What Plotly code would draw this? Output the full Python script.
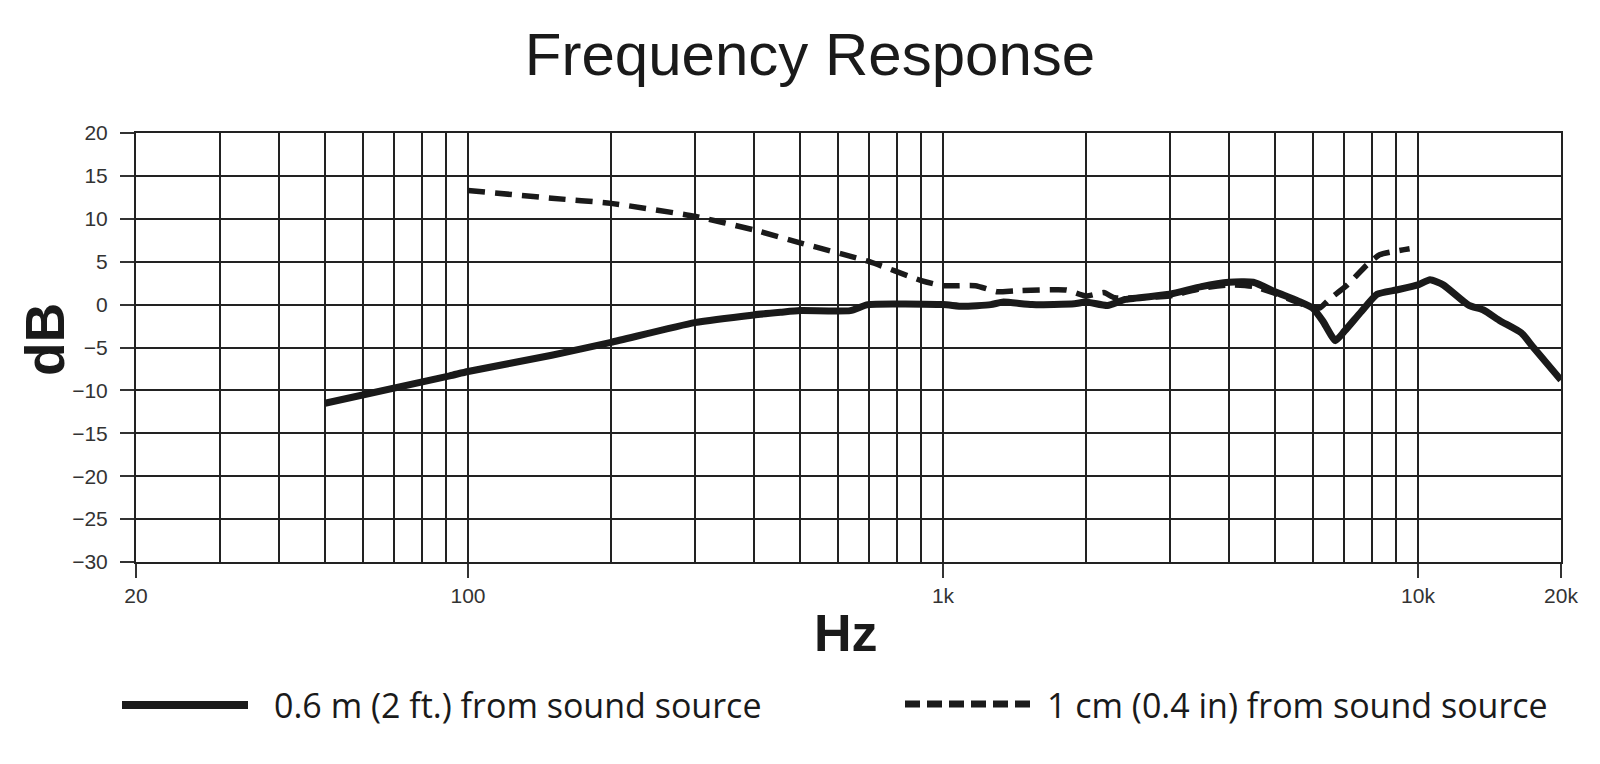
import plotly.graph_objects as go

# ---- data ----
freq_06m = [50, 91.5, 100, 150, 200, 300, 400, 455, 500, 638, 695, 1000, 1100, 1260, 1340, 1540,
            1890, 2000, 2220, 2420, 3000, 3500, 4000, 4500, 5000, 5600, 6000, 6300, 6700, 7000,
            7600, 8200, 9000, 10000, 10600, 11300, 12800, 13700, 14900, 16500, 17500, 20000]
db_06m = [-11.5, -8.3, -7.8, -5.9, -4.4, -2.1, -1.2, -0.9, -0.7, -0.7, 0.0, 0.0, -0.2, 0.0, 0.3, 0.0,
          0.1, 0.3, -0.1, 0.6, 1.2, 2.1, 2.6, 2.6, 1.5, 0.4, -0.4, -1.9, -4.2, -3.1,
          -0.8, 1.2, 1.7, 2.3, 2.9, 2.3, -0.1, -0.6, -1.9, -3.3, -5.0, -8.8]

freq_1cm = [100, 150, 200, 300, 400, 500, 700, 900, 1000, 1170, 1300, 1420, 1820, 2000, 2180, 2300,
            3000, 3500, 4000, 4500, 5000, 5600, 6200, 6500, 7100, 7800, 8300, 9600]
db_1cm = [13.3, 12.4, 11.8, 10.3, 8.7, 7.2, 5.0, 2.8, 2.2, 2.2, 1.5, 1.6, 1.7, 1.0, 1.4, 0.8,
          1.0, 1.9, 2.3, 2.1, 1.3, 0.2, -0.4, 0.6, 2.3, 4.6, 5.8, 6.5]

x_tick_vals = [20, 100, 1000, 10000, 20000]
x_tick_text = ["20", "100", "1k", "10k", "20k"]
x_grid_vals = [30, 40, 50, 60, 70, 80, 90, 200, 300, 400, 500, 600, 700, 800, 900,
               2000, 3000, 4000, 5000, 6000, 7000, 8000, 9000]
y_tick_vals = [20, 15, 10, 5, 0, -5, -10, -15, -20, -25, -30]

legend_labels = ["0.6 m (2 ft.) from sound source", "1 cm (0.4 in) from sound source"]
title_text = "Frequency Response"

# ---- layout geometry ----
W, H = 1600, 764
L, R, T, B = 136, 39, 133, 202
PW, PH = W - L - R, H - T - B


def px(x):
    return (x - L) / PW


def py(y):
    return (T + PH - y) / PH


GRID = "#222222"
INK = "#1a1a1a"

fig = go.Figure()
fig.add_trace(go.Scatter(x=freq_06m, y=db_06m, mode="lines",
                         line=dict(color=INK, width=7, shape="spline", smoothing=0.5),
                         showlegend=False, name=legend_labels[0]))
fig.add_trace(go.Scatter(x=freq_1cm, y=db_1cm, mode="lines",
                         line=dict(color=INK, width=5.5, dash="17px,10px", shape="spline",
                                   smoothing=0.5),
                         showlegend=False, name=legend_labels[1]))

fig.update_layout(
    width=W, height=H,
    margin=dict(l=L, r=R, t=T, b=B),
    paper_bgcolor="white", plot_bgcolor="white",
    title=dict(text=title_text, x=810 / W, xanchor="center", y=1 - 54 / H, yanchor="middle",
               xref="container", yref="container",
               font=dict(family="Liberation Sans, Arial, sans-serif", size=60, color=INK)),
)

fig.update_xaxes(
    type="log", range=[1.30103, 4.30103],
    tickmode="array", tickvals=x_tick_vals, ticktext=x_tick_text,
    ticks="outside", ticklen=14, tickwidth=2, tickcolor="#333333",
    tickfont=dict(family="Liberation Sans, Arial, sans-serif", size=21, color="#333333"),
    showgrid=True, gridcolor=GRID, gridwidth=2,
    minor=dict(tickmode="array", tickvals=x_grid_vals, showgrid=True, gridcolor=GRID,
               gridwidth=2, ticks=""),
    showline=True, mirror=True, linecolor=GRID, linewidth=2,
    zeroline=False,
)
fig.update_yaxes(
    range=[-30, 20], tickmode="array", tickvals=y_tick_vals,
    ticks="outside", ticklen=14, tickwidth=2, tickcolor="#333333",
    ticklabelstandoff=8,
    tickfont=dict(family="Liberation Sans, Arial, sans-serif", size=21, color="#333333"),
    showgrid=True, gridcolor=GRID, gridwidth=2,
    showline=True, mirror=True, linecolor=GRID, linewidth=2,
    zeroline=False,
)

# axis titles
fig.add_annotation(text="<b>dB</b>", xref="paper", yref="paper", x=px(45), y=py(340),
                   xanchor="center", yanchor="middle", textangle=-90, showarrow=False,
                   font=dict(family="Liberation Sans, Arial, sans-serif", size=55, color=INK))
fig.add_annotation(text="<b>Hz</b>", xref="paper", yref="paper", x=px(846), y=py(633),
                   xanchor="center", yanchor="middle", showarrow=False,
                   font=dict(family="Liberation Sans, Arial, sans-serif", size=52, color=INK))

# legend samples and labels
fig.add_shape(type="line", xref="paper", yref="paper", x0=px(122), x1=px(248),
              y0=py(705), y1=py(705), line=dict(color=INK, width=8))
fig.add_shape(type="line", xref="paper", yref="paper", x0=px(905), x1=px(1030),
              y0=py(704), y1=py(704), line=dict(color=INK, width=7, dash="15px,7px"))
fig.add_annotation(text=legend_labels[0], xref="paper", yref="paper", x=px(272), y=py(705),
                   xanchor="left", yanchor="middle", showarrow=False,
                   font=dict(family="Open Sans, sans-serif", size=34, color=INK))
fig.add_annotation(text=legend_labels[1], xref="paper", yref="paper", x=px(1045), y=py(705),
                   xanchor="left", yanchor="middle", showarrow=False,
                   font=dict(family="Open Sans, sans-serif", size=34, color=INK))

fig.write_html("out.html")
